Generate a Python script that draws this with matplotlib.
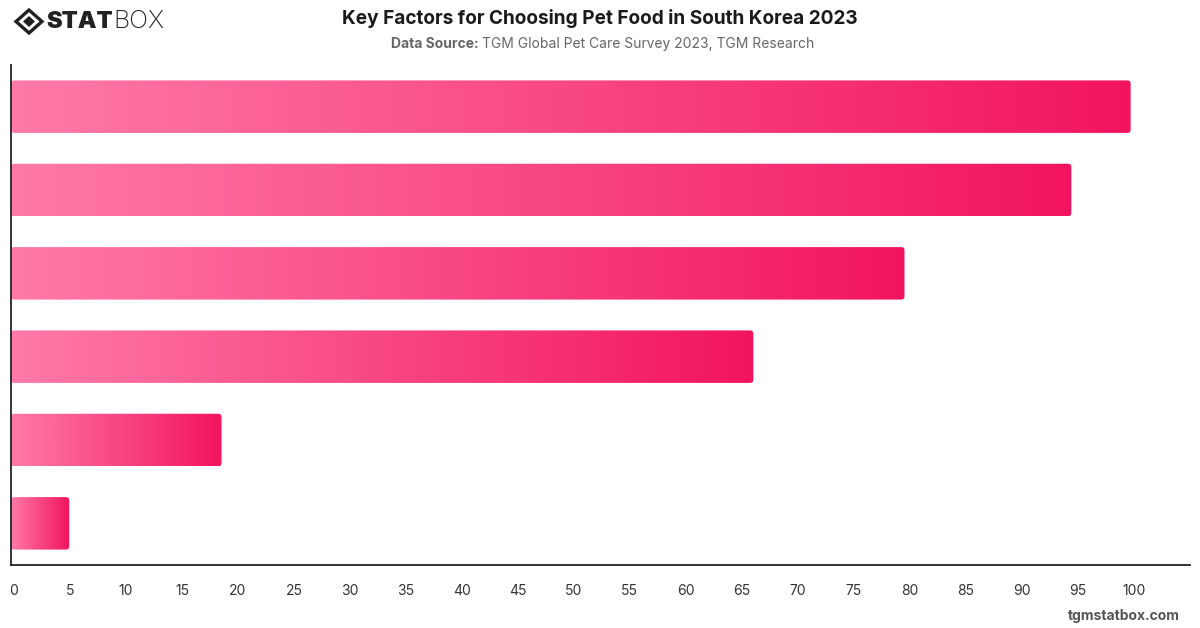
import numpy as np
import matplotlib.pyplot as plt
import matplotlib.transforms as mtransforms
from matplotlib.patches import FancyBboxPatch, Polygon
from matplotlib.colors import LinearSegmentedColormap

plt.rcParams['font.family'] = ['Inter', 'DejaVu Sans']

# data (category names are not shown on the chart)
categories = ["Factor 1", "Factor 2", "Factor 3", "Factor 4", "Factor 5", "Factor 6"]
values = [100, 94.7, 79.8, 66.3, 18.8, 5.2]
xticks = list(range(0, 101, 5))

fig = plt.figure(figsize=(12, 6.28), dpi=100)
ax = fig.add_axes([11 / 1200, 1 - 565 / 628, (1190 - 11) / 1200, 500 / 628])

cmap = LinearSegmentedColormap.from_list("pink", ["#ff7aa8", "#f2145f"])
grad = np.linspace(0, 1, 256).reshape(1, -1)

n = len(categories)
h = 0.63
for i, v in enumerate(values):
    y = n - 1 - i
    im = ax.imshow(grad, cmap=cmap, aspect="auto",
                   extent=[0, v, y - h / 2, y + h / 2], zorder=2)
    box = FancyBboxPatch((0, y - h / 2), v, h,
                         boxstyle="round,pad=0,rounding_size=0.3",
                         mutation_aspect=0.13, transform=ax.transData,
                         facecolor="none", edgecolor="none")
    ax.add_patch(box)
    im.set_clip_path(box)

ax.set_xlim(0, 105.3)
ax.set_ylim(-0.5, n - 0.5)
ax.set_xticks(xticks)
ax.set_xticklabels([str(t) for t in xticks])
ax.set_yticks([])
ax.tick_params(axis="x", length=0, pad=14, labelsize=10, labelcolor="#333333")
shift = mtransforms.ScaledTranslation(3 / 100, 0, fig.dpi_scale_trans)
for lbl in ax.get_xticklabels():
    lbl.set_transform(lbl.get_transform() + shift)
for s in ["top", "right"]:
    ax.spines[s].set_visible(False)
for s in ["left", "bottom"]:
    ax.spines[s].set_color("#222222")
    ax.spines[s].set_linewidth(1.3)

# overlay axes in pixel coordinates for header / logo / footer
ov = fig.add_axes([0, 0, 1, 1], zorder=-1)
ov.set_xlim(0, 1200)
ov.set_ylim(628, 0)
ov.axis("off")

ov.text(600, 18, "Key Factors for Choosing Pet Food in South Korea 2023",
        ha="center", va="center", fontsize=13.7, fontweight="bold", color="#1a1a1a")
ov.text(391, 44, "Data Source:", ha="left", va="center",
        fontsize=10, fontweight="bold", color="#666666")
ov.text(482, 44, "TGM Global Pet Care Survey 2023, TGM Research",
        ha="left", va="center", fontsize=10, color="#666666")

# logo: outlined diamond with filled inner diamond
cx, cy = 29, 21.5
ov.add_patch(Polygon([[cx - 13, cy], [cx, cy - 11.5], [cx + 13, cy], [cx, cy + 11.5]],
                     closed=True, facecolor="none", edgecolor="#222222", linewidth=2.4))
ov.add_patch(Polygon([[cx - 6, cy], [cx, cy - 5.5], [cx + 6, cy], [cx, cy + 5.5]],
                     closed=True, facecolor="#222222", edgecolor="none"))
stat = ov.text(46, 22, "STAT", ha="left", va="center", fontsize=17,
               fontweight="black", color="#222222")
fig.canvas.draw()
bb = stat.get_window_extent().transformed(ov.transData.inverted())
ov.text(max(bb.x0, bb.x1) + 1, 22, "BOX", ha="left", va="center", fontsize=18,
        fontweight="light", color="#222222")

# footer
ov.text(1180, 616, "tgmstatbox.com", ha="right", va="center",
        fontsize=10, fontweight="bold", color="#555555")

fig.savefig("out.png", dpi=100)
